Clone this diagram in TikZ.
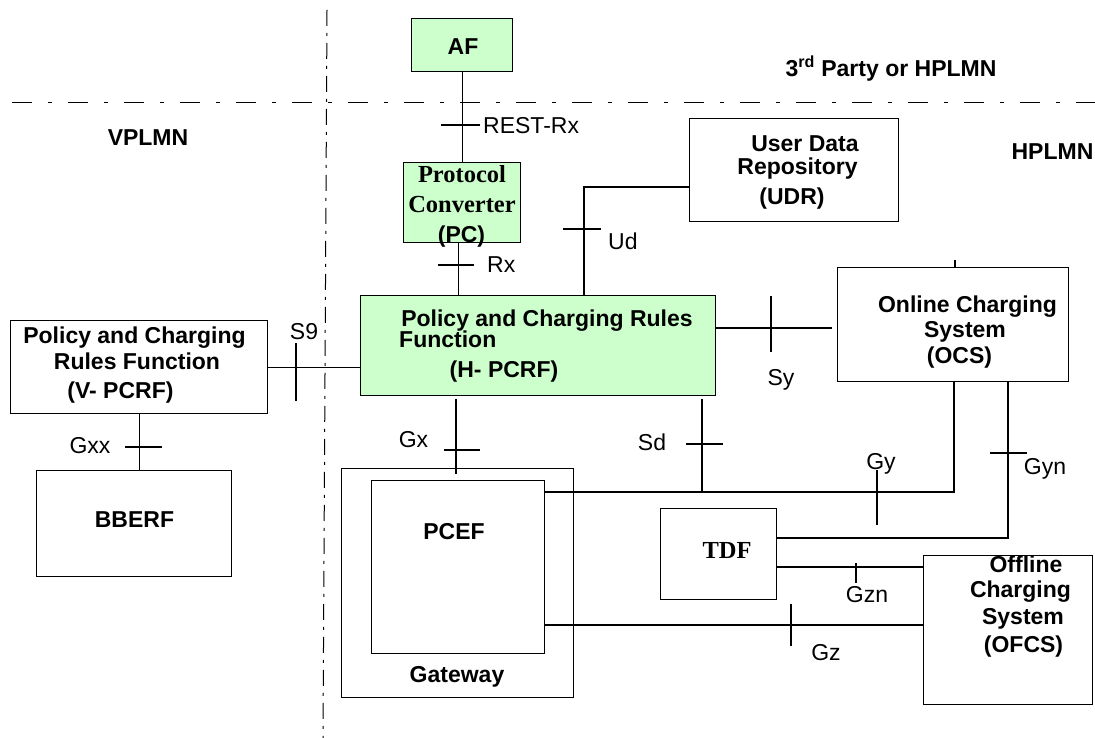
\documentclass[tikz,border=0pt]{standalone}
\usepackage{fontspec}
\setmainfont{Liberation Sans}
\newfontfamily\tmsfont{Liberation Serif}
\usetikzlibrary{calc}
\definecolor{boxgreen}{HTML}{CCFFCC}
\begin{document}
\begin{tikzpicture}[x=1pt,y=-1pt,
  box/.style={draw, line width=1.3pt, inner sep=0pt, anchor=north west},
  gbox/.style={box, fill=boxgreen},
  conn/.style={line width=1.2pt},
  tickmark/.style={line width=1.1pt},
  bt/.style={font=\fontsize{23}{27}\selectfont\bfseries, inner sep=0pt, text height=16.5pt, text depth=0pt},
  rt/.style={font=\fontsize{23}{27}\selectfont, inner sep=0pt, text height=16.5pt, text depth=0pt},
  tt/.style={font=\fontsize{24.5}{28}\selectfont\tmsfont\bfseries, inner sep=0pt, text height=16.2pt, text depth=0pt},
  hborder/.style={line width=1pt, dash pattern=on 20pt off 16pt on 4pt off 16pt},
  vborder/.style={line width=1pt, dash pattern=on 16pt off 7pt on 3pt off 7pt},
]
\useasboundingbox (0,0) rectangle (1095,738);

% domain borders
\draw[hborder] (12,103) -- (1095,103);
\draw[vborder] (327,10) -- (323,738);

% boxes
\node[gbox, minimum width=101pt, minimum height=53pt] (af) at (411,18) {};
\node[gbox, minimum width=117pt, minimum height=80pt] (pc) at (403,162) {};
\node[box, minimum width=209pt, minimum height=103pt] (udr) at (689,118) {};
\node[gbox, minimum width=355pt, minimum height=100pt] (hpcrf) at (360,295) {};
\node[box, minimum width=257pt, minimum height=93pt] (vpcrf) at (10,320) {};
\node[box, minimum width=195pt, minimum height=106pt] (bberf) at (36,470) {};
\node[box, minimum width=231pt, minimum height=114pt] (ocs) at (837,267) {};
\node[box, minimum width=232pt, minimum height=229pt] (gw) at (341,468) {};
\node[box, minimum width=173pt, minimum height=173pt] (pcef) at (371,480) {};
\node[box, minimum width=116pt, minimum height=91pt] (tdf) at (660,508) {};
\node[box, minimum width=169pt, minimum height=149pt] (ofcs) at (923,555) {};

% connectors
\draw[conn] (af.south) -- (af.south |- pc.north);
\coordinate (pcb) at ([xshift=-4pt]pc.south);
\draw[conn] (pcb) -- (pcb |- hpcrf.north);
\draw[conn] (udr.west |- 0,187) -| (584,0 |- hpcrf.north);
\draw[conn] (vpcrf.east) -- (vpcrf.east -| hpcrf.west);
\draw[conn, shorten >=5pt] (hpcrf.east |- 0,328) -- (ocs.west |- 0,328);
\draw[conn] (vpcrf.south) -- (vpcrf.south |- bberf.north);
\draw[conn, shorten <=3pt, shorten >=6pt] (456,0 |- hpcrf.south) -- (456,0 |- pcef.north);
\coordinate (gyj) at (702,492);
\draw[conn] (pcef.east |- gyj) -- (954,492) -- (954,0 |- ocs.south);
\draw[conn, shorten <=3pt] (gyj |- hpcrf.south) -- (gyj);
\draw[conn] (tdf.east |- 0,538) -| (1008,0 |- ocs.south);
\draw[conn] (tdf.east |- 0,567) -- (ofcs.west |- 0,567);
\draw[conn] (pcef.east |- 0,625) -- (ofcs.west |- 0,625);

% interface ticks
\draw[tickmark] (441,125) -- (480,125);
\draw[tickmark] (438,265) -- (474,265);
\draw[tickmark] (563,229) -- (601,229);
\draw[tickmark] (296,343) -- (296,401);
\draw[tickmark] (771,296) -- (771,352);
\draw[tickmark] (955,260) -- (955,267);
\draw[tickmark] (125,447) -- (162,447);
\draw[tickmark] (444,450) -- (480,450);
\draw[tickmark] (686,444) -- (723,444);
\draw[tickmark] (877,470) -- (877,525);
\draw[tickmark] (990,453) -- (1027,453);
\draw[tickmark] (856,563) -- (856,583);
\draw[tickmark] (791,604) -- (791,646);

% box texts
\node[bt] (afT) at (463,46) {AF};
\node[tt] (pcT1) at (462,174.5) {Protocol};
\node[tt] (pcT2) at (462,204.5) {Converter};
\node[bt] (pcT3) at (461.5,234) {(PC)};
\node[bt] (udrT1) at (805,143.5) {User Data};
\node[bt] (udrT2) at (797.5,166.5) {Repository};
\node[bt] (udrT3) at (792,196) {(UDR)};
\node[bt] (hT1) at (547,318) {Policy and Charging Rules};
\node[bt, anchor=west] (hT2) at (399,339.5) {Function};
\node[bt] (hT3) at (504,369) {(H- PCRF)};
\node[bt] (vT1) at (134.5,335) {Policy and Charging};
\node[bt] (vT2) at (137,361) {Rules Function};
\node[bt] (vT3) at (120.5,390) {(V- PCRF)};
\node[bt] (bbT) at (134.5,519.5) {BBERF};
\node[bt] (pcefT) at (454,531) {PCEF};
\node[bt] (gwT) at (457,674) {Gateway};
\node[bt] (ocsT1) at (967.5,304.5) {Online Charging};
\node[bt] (ocsT2) at (965,329.5) {System};
\node[bt] (ocsT3) at (959.5,355.5) {(OCS)};
\node[tt] (tdfT) at (727,550) {TDF};
\node[bt] (ofT1) at (1026,564) {Offline};
\node[bt] (ofT2) at (1020.5,589) {Charging};
\node[bt] (ofT3) at (1023,616) {System};
\node[bt] (ofT4) at (1023.5,644.5) {(OFCS)};

% domain labels
\node[bt] (thirdT) at (891,68.5) {3\textsuperscript{rd} Party or HPLMN};
\node[bt] (vplmnT) at (148,137) {VPLMN};
\node[bt] (hplmnT) at (1052.5,151) {HPLMN};

% interface labels
\node[rt, anchor=west] (restT) at (483,125) {REST-Rx};
\node[rt, anchor=west] (rxT) at (487,264.5) {Rx};
\node[rt, anchor=west] (udT) at (608,241) {Ud};
\node[rt] (s9T) at (304,331.5) {S9};
\node[rt] (syT) at (781,377) {Sy};
\node[rt] (gxxT) at (90,445.5) {Gxx};
\node[rt] (gxT) at (413.5,439.5) {Gx};
\node[rt] (sdT) at (652,442) {Sd};
\node[rt] (gyT) at (881,461.5) {Gy};
\node[rt] (gynT) at (1045,466.5) {Gyn};
\node[rt] (gznT) at (867,594.5) {Gzn};
\node[rt] (gzT) at (826,652) {Gz};
\end{tikzpicture}
\end{document}
